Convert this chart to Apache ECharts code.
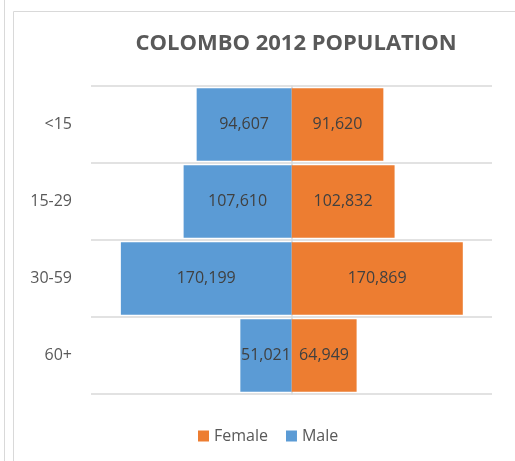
<!DOCTYPE html>
<html>
<head>
<meta charset="utf-8">
<script src="https://cdn.jsdelivr.net/npm/echarts@6/dist/echarts.min.js"></script>
<style>html,body{margin:0;padding:0;background:#fff;}#c{width:515px;height:461px;}</style>
</head>
<body>
<div id="c"></div>
<script>
const categories = ['<15', '15-29', '30-59', '60+'];
const female = [91620, 102832, 170869, 64949];
const male = [94607, 107610, 170199, 51021];

const chart = echarts.init(document.getElementById('c'), null, {renderer: 'canvas'});
const fmt = v => Math.abs(v).toLocaleString('en-US');
const FONT = 'Open Sans';
chart.setOption({
  animation: false,
  title: {
    text: 'COLOMBO 2012 POPULATION',
    left: 291, top: 28, textAlign: 'center',
    textStyle: {fontFamily: FONT, fontSize: 22, fontWeight: 'bold', color: '#595959'}
  },
  graphic: [
    {type: 'rect', shape: {x: 13.5, y: 11.5, width: 600, height: 600}, style: {fill: 'none', stroke: '#D9D9D9', lineWidth: 1}, silent: true},
    {type: 'line', shape: {x1: 4.5, y1: 0, x2: 4.5, y2: 461}, style: {stroke: '#D9D9D9', lineWidth: 1}, silent: true}
  ],
  legend: {
    data: ['Female', 'Male'],
    bottom: 12, left: 193,
    itemWidth: 11, itemHeight: 11, itemGap: 18,
    icon: 'rect',
    textStyle: {fontFamily: FONT, fontSize: 16, color: '#595959'}
  },
  grid: {left: 91, right: 23, top: 86, bottom: 67, containLabel: false},
  xAxis: {
    type: 'value', min: -200000, max: 200000, interval: 50000,
    show: false
  },
  yAxis: {
    type: 'category', data: categories, inverse: true,
    axisLine: {show: true, onZero: true, lineStyle: {color: '#D9D9D9', width: 1.5}},
    axisTick: {show: false},
    splitLine: {show: true, lineStyle: {color: '#D9D9D9', width: 1.5}},
    axisLabel: {fontFamily: FONT, fontSize: 16, color: '#595959', margin: 19, align: 'right'}
  },
  series: [
    {
      name: 'Female', type: 'bar', data: female, barGap: '-100%', barCategoryGap: '6%',
      itemStyle: {color: '#ED7D31'},
      label: {show: true, position: 'inside', formatter: p => fmt(p.value), fontFamily: FONT, fontSize: 16, color: '#404040'}
    },
    {
      name: 'Male', type: 'bar', data: male.map(v => -v), barGap: '-100%', barCategoryGap: '6%',
      itemStyle: {color: '#5B9BD5'},
      label: {show: true, position: 'inside', formatter: p => fmt(p.value), fontFamily: FONT, fontSize: 16, color: '#404040'}
    }
  ]
});
</script>
</body>
</html>
